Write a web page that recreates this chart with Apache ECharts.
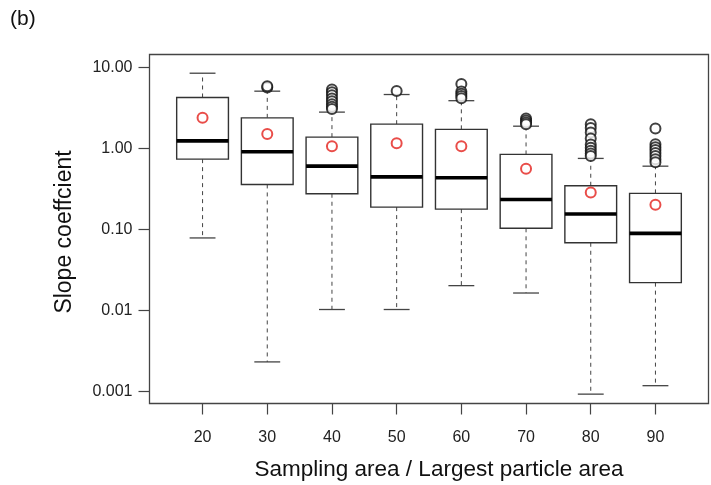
<!DOCTYPE html>
<html>
<head>
<meta charset="utf-8">
<script src="https://cdn.jsdelivr.net/npm/echarts@6/dist/echarts.min.js"></script>
<style>
  html, body { margin: 0; padding: 0; background: #fff; }
  #chart { width: 711px; height: 485px; }
</style>
</head>
<body>
<div id="chart"></div>
<script>
// Slope coefficient distribution per sampling-area ratio (log scale)
const categories = ['20', '30', '40', '50', '60', '70', '80', '90'];
const lowerWhisker = [0.078, 0.0023, 0.0102, 0.0102, 0.0201, 0.0163, 0.00092, 0.00117];
const q1 = [0.733, 0.357, 0.274, 0.1875, 0.177, 0.1026, 0.068, 0.0219];
const median = [1.23, 0.903, 0.601, 0.443, 0.431, 0.233, 0.154, 0.0889];
const q3 = [4.23, 2.37, 1.37, 1.98, 1.71, 0.838, 0.344, 0.277];
const upperWhisker = [8.43, 5.06, 2.79, 4.60, 3.86, 1.87, 0.748, 0.60];
const means = [2.37, 1.50, 1.06, 1.15, 1.06, 0.557, 0.284, 0.200];
const outliers = [
  [],
  [5.6, 5.8],
  [5.3, 4.9, 4.5, 4.1, 3.8, 3.5, 3.25, 3.05],
  [5.1],
  [6.2, 5.0, 4.7, 4.4, 4.15],
  [2.32, 2.2, 2.08, 1.98],
  [1.98, 1.78, 1.56, 1.32, 1.11, 1.01, 0.93, 0.86, 0.80],
  [1.75, 1.12, 1.03, 0.95, 0.87, 0.80, 0.73, 0.67]
];
const yTickValues = [0.001, 0.01, 0.1, 1, 10];
const yTickLabels = ['0.001', '0.01', '0.10', '1.00', '10.00'];

const FONT = 'Liberation Sans, Arial, sans-serif';
const xPositions = categories.map((_, i) => i + 1);

const boxData = categories.map((_, i) =>
  [i + 1, lowerWhisker[i], q1[i], median[i], q3[i], upperWhisker[i]]);
const meanData = means.map((v, i) => [i + 1, v]);
const outlierData = [];
outliers.forEach((list, i) => list.forEach(v => outlierData.push([i + 1, v])));

function renderBox(params, api) {
  const x = api.value(0);
  const half = 0.4, capHalf = 0.2;
  const pLow = api.coord([x, api.value(1)]);
  const pQ1 = api.coord([x, api.value(2)]);
  const pMed = api.coord([x, api.value(3)]);
  const pQ3 = api.coord([x, api.value(4)]);
  const pHigh = api.coord([x, api.value(5)]);
  const xl = api.coord([x - half, api.value(3)])[0];
  const xr = api.coord([x + half, api.value(3)])[0];
  const cl = api.coord([x - capHalf, api.value(3)])[0];
  const cr = api.coord([x + capHalf, api.value(3)])[0];
  const cx = pMed[0];
  const dash = { stroke: '#444', lineWidth: 1, lineDash: [4, 4] };
  const solid = { stroke: '#444', lineWidth: 1.3 };
  return {
    type: 'group',
    children: [
      { type: 'line', shape: { x1: cx, y1: pQ1[1], x2: cx, y2: pLow[1] }, style: dash },
      { type: 'line', shape: { x1: cx, y1: pQ3[1], x2: cx, y2: pHigh[1] }, style: dash },
      { type: 'line', shape: { x1: cl, y1: pLow[1], x2: cr, y2: pLow[1] }, style: solid },
      { type: 'line', shape: { x1: cl, y1: pHigh[1], x2: cr, y2: pHigh[1] }, style: solid },
      { type: 'rect', shape: { x: xl, y: pQ3[1], width: xr - xl, height: pQ1[1] - pQ3[1] },
        style: { fill: '#fff', stroke: '#333', lineWidth: 1.4 } },
      { type: 'line', shape: { x1: xl, y1: pMed[1], x2: xr, y2: pMed[1] },
        style: { stroke: '#000', lineWidth: 3.6 } }
    ]
  };
}

const chart = echarts.init(document.getElementById('chart'));
chart.setOption({
  backgroundColor: '#fff',
  animation: false,
  grid: {
    left: 149.5, top: 54.5, right: 2.5, bottom: 81.5,
    show: true, borderColor: '#444', borderWidth: 1.3, backgroundColor: 'transparent'
  },
  xAxis: {
    type: 'value', min: 0.18, max: 8.82,
    axisLine: { show: false },
    splitLine: { show: false },
    axisTick: { show: true, length: 11, customValues: xPositions, lineStyle: { color: '#444', width: 1.2 } },
    axisLabel: {
      customValues: xPositions, margin: 26, fontSize: 16, fontFamily: FONT, color: '#222',
      formatter: v => categories[Math.round(v) - 1]
    }
  },
  yAxis: {
    type: 'log', logBase: 10, min: 0.000705, max: 14.35,
    axisLine: { show: false },
    splitLine: { show: false },
    minorTick: { show: false },
    axisTick: { show: true, length: 11, customValues: yTickValues, lineStyle: { color: '#444', width: 1.2 } },
    axisLabel: {
      customValues: yTickValues, margin: 17, fontSize: 16, fontFamily: FONT, color: '#222',
      formatter: v => {
        const idx = yTickValues.findIndex(t => Math.abs(Math.log10(t) - Math.log10(v)) < 1e-6);
        return idx >= 0 ? yTickLabels[idx] : '';
      }
    }
  },
  graphic: [
    { type: 'text', left: 10, top: 9,
      style: { text: '(b)', fontSize: 21, fontFamily: FONT, fill: '#111' } },
    { type: 'text', x: 65, y: 232, rotation: Math.PI / 2,
      style: { text: 'Slope coeffcient', fontSize: 23, fontFamily: FONT, fill: '#111',
               align: 'center', verticalAlign: 'middle' } },
    { type: 'text', x: 439, y: 470,
      style: { text: 'Sampling area / Largest particle area', fontSize: 22.5, fontFamily: FONT, fill: '#111',
               align: 'center', verticalAlign: 'middle' } }
  ],
  series: [
    {
      type: 'custom',
      renderItem: renderBox,
      encode: { x: 0, y: [1, 2, 3, 4, 5] },
      data: boxData,
      z: 2
    },
    {
      type: 'scatter',
      data: outlierData,
      symbol: 'emptyCircle',
      symbolSize: 10,
      itemStyle: { color: '#111', borderWidth: 1.2 },
      z: 3
    },
    {
      type: 'scatter',
      data: meanData,
      symbol: 'emptyCircle',
      symbolSize: 10,
      itemStyle: { color: '#e3201b', borderWidth: 1.5 },
      z: 4
    }
  ]
});
</script>
</body>
</html>
